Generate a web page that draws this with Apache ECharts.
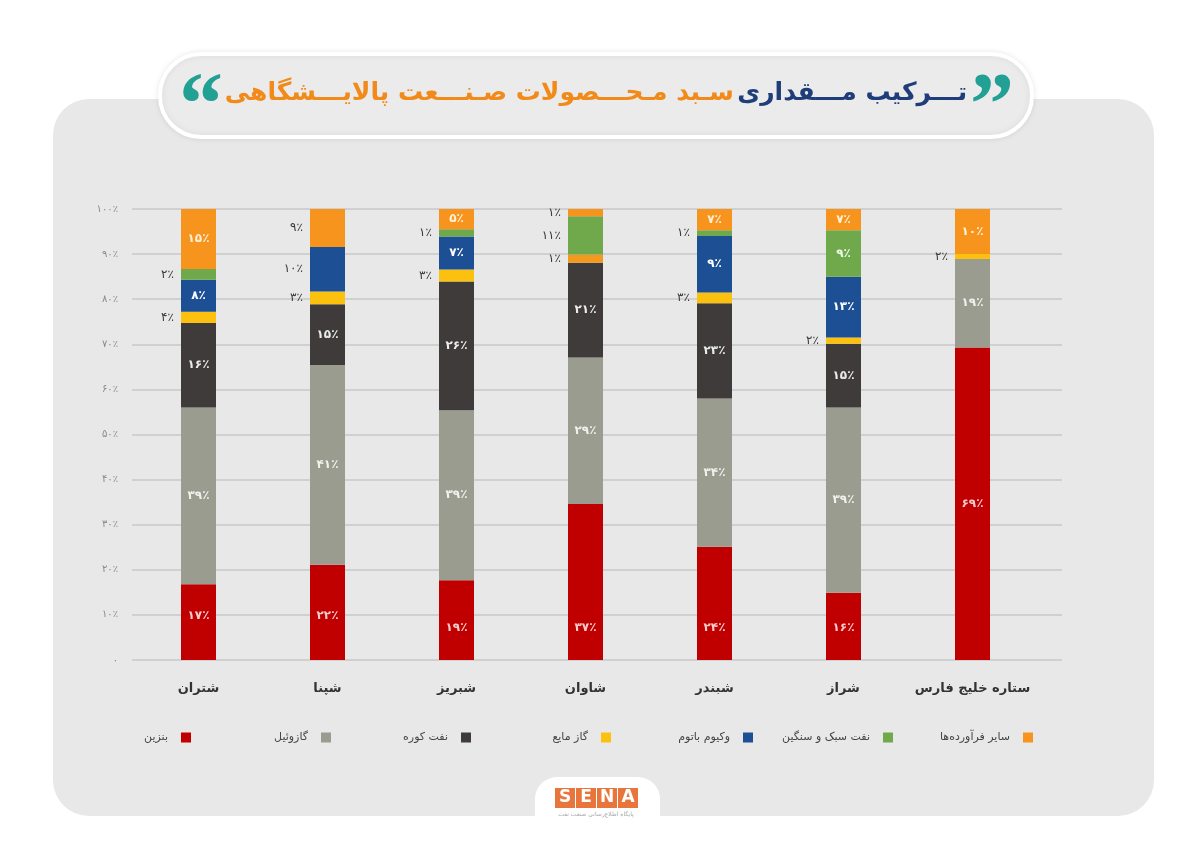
<!DOCTYPE html>
<html>
<head>
<meta charset="utf-8">
<script src="https://cdn.jsdelivr.net/npm/echarts@6/dist/echarts.min.js"></script>
<style>
html,body{margin:0;padding:0;background:#ffffff;}
#chart{width:1200px;height:849px;}
</style>
</head>
<body>
<div id="chart"></div>
<script>
// ---- data ----
const categories = ['شتران', 'شپنا', 'شبریز', 'شاوان', 'شبندر', 'شراز', 'ستاره خلیج فارس'];
const seriesNames = ['بنزین', 'گازوئیل', 'نفت کوره', 'گاز مایع', 'وکیوم باتوم', 'نفت سبک و سنگین', 'سایر فرآورده‌ها'];

// segment heights (%) as drawn
const benzin     = [16.8, 21.1, 17.7, 34.6, 25.1, 14.9, 69.3];
const gasoil     = [39.2, 44.3, 37.7, 32.5, 32.9, 41.1, 19.6];
const fuelOil    = [18.7, 13.5, 28.5, 21.0, 21.1, 14.1, 0];
const lpg        = [2.5, 2.8, 2.7, 1.8, 2.4, 1.4, 1.1];
const vacuum     = [7.1, 9.9, 7.3, 0, 12.5, 13.5, 0];
const lightHeavy = [2.4, 0, 1.6, 8.5, 1.3, 10.3, 0];
const others     = [13.3, 8.4, 4.5, 1.6, 4.7, 4.7, 10.0];

// printed percentage labels
const benzinTxt     = [17, 22, 19, 37, 24, 16, 69];
const gasoilTxt     = [39, 41, 39, 29, 34, 39, 19];
const fuelOilTxt    = [16, 15, 26, 21, 23, 15, null];
const lpgTxt        = [4, 3, 3, 1, 3, 2, 2];
const vacuumTxt     = [8, 10, 7, null, 9, 13, null];
const lightHeavyTxt = [2, null, 1, 11, 1, 9, null];
const othersTxt     = [15, 9, 5, 1, 7, 7, 10];

const yTickLabels = ['۰', '۱۰٪', '۲۰٪', '۳۰٪', '۴۰٪', '۵۰٪', '۶۰٪', '۷۰٪', '۸۰٪', '۹۰٪', '۱۰۰٪'];

// ---- styling ----
const FONT = 'DejaVu Sans';
const colors = ['#c00000', '#9b9c90', '#3f3b3b', '#fcc10f', '#1c4f94', '#70a94c', '#f7941d'];
const insideLabelColors = ['#f6cccc', '#f0f0ec', '#ececec', '#333', '#ffffff', '#f0f6ea', '#fff0d6'];
// [category, series] pairs whose label sits left of the bar
const outsideSet = new Set(['0-3','0-5','1-3','1-4','1-6','2-3','2-5','3-3','3-5','3-6','4-3','4-5','5-3','6-3']);
// item-level colour override (strip drawn in orange in the source)
const colorOverride = {'3-3': '#f39a1e'};

const values = [benzin, gasoil, fuelOil, lpg, vacuum, lightHeavy, others];
const texts = [benzinTxt, gasoilTxt, fuelOilTxt, lpgTxt, vacuumTxt, lightHeavyTxt, othersTxt];

const fa = n => String(n).replace(/\d/g, d => '۰۱۲۳۴۵۶۷۸۹'[d]);

const series = seriesNames.map((name, s) => ({
  name: name,
  type: 'bar',
  stack: 'total',
  xAxisIndex: 1,
  yAxisIndex: 1,
  barWidth: 35,
  itemStyle: { color: colors[s] },
  emphasis: { disabled: true },
  data: values[s].map((v, c) => {
    const key = c + '-' + s;
    const t = texts[s][c];
    const item = { value: v === 0 ? null : v };
    if (t == null) {
      item.label = { show: false };
    } else if (outsideSet.has(key)) {
      item.label = { show: true, position: 'left', distance: 7, color: '#3a3a3a', fontSize: 12, fontFamily: FONT, formatter: fa(t) + '٪' };
    } else {
      const lbl = { show: true, position: 'inside', color: insideLabelColors[s], fontSize: 12, fontFamily: FONT, fontWeight: 'bold', formatter: fa(t) + '٪' };
      if (s === 0 && c < 6) { lbl.position = 'insideBottom'; lbl.distance = c < 2 ? 38 : 26; }
      item.label = lbl;
    }
    if (colorOverride[key]) item.itemStyle = { color: colorOverride[key] };
    return item;
  })
}));

const legends = seriesNames.map((name, i) => ({
  data: [name],
  right: 1200 - (191 + 140 * i + (i >= 4 ? 2 : 0)),
  top: 732,
  align: 'right',
  orient: 'horizontal',
  padding: 0,
  icon: 'rect',
  itemWidth: 10,
  itemHeight: 10,
  selectedMode: false,
  textStyle: { fontSize: 11, color: '#444', fontFamily: FONT, padding: [0, 8, 0, 0] }
}));

const chart = echarts.init(document.getElementById('chart'), null, { renderer: 'canvas' });
chart.setOption({
  backgroundColor: '#ffffff',
  animation: false,
  textStyle: { fontFamily: FONT },
  graphic: [
    { type: 'rect', z: -10, shape: { x: 53, y: 99, width: 1101, height: 717, r: 36 }, style: { fill: '#e9e8e9' } },
    { type: 'rect', z: -9, shape: { x: 160, y: 54, width: 872, height: 83, r: 41 },
      style: { fill: '#ecebec', stroke: '#ffffff', lineWidth: 4, shadowBlur: 6, shadowColor: 'rgba(0,0,0,0.08)' } },
    { type: 'text', z: 5, x: 596, y: 93,
      style: {
        text: '{o|سـبد مـحـــصولات صـنـــعت پالایـــشگاهی} {b|تـــرکیب مـــقداری}',
        align: 'center', verticalAlign: 'middle',
        rich: {
          o: { fill: '#f28a1a', fontSize: 25, fontWeight: 'bold', fontFamily: FONT },
          b: { fill: '#1f3d78', fontSize: 25, fontWeight: 'bold', fontFamily: FONT }
        }
      } },
    { type: 'text', z: 5, x: 201, y: 110, style: { text: '“', fill: '#22a093', fontSize: 88, fontWeight: 'bold', fontFamily: 'Liberation Serif', align: 'center', verticalAlign: 'middle' } },
    { type: 'text', z: 5, x: 992, y: 110, style: { text: '”', fill: '#22a093', fontSize: 88, fontWeight: 'bold', fontFamily: 'Liberation Serif', align: 'center', verticalAlign: 'middle' } },
    { type: 'rect', z: -8, shape: { x: 535, y: 777, width: 125, height: 80, r: [22, 22, 0, 0] }, style: { fill: '#ffffff' } },
    { type: 'rect', z: 5, shape: { x: 555, y: 788, width: 20, height: 20 }, style: { fill: '#e8763c' } },
    { type: 'rect', z: 5, shape: { x: 576, y: 788, width: 20, height: 20 }, style: { fill: '#e8763c' } },
    { type: 'rect', z: 5, shape: { x: 597, y: 788, width: 20, height: 20 }, style: { fill: '#e8763c' } },
    { type: 'rect', z: 5, shape: { x: 618, y: 788, width: 20, height: 20 }, style: { fill: '#e8763c' } },
    { type: 'text', z: 6, x: 565, y: 798, style: { text: 'S', fill: '#fff', fontSize: 17, fontWeight: 'bold', fontFamily: FONT, align: 'center', verticalAlign: 'middle' } },
    { type: 'text', z: 6, x: 586, y: 798, style: { text: 'E', fill: '#fff', fontSize: 17, fontWeight: 'bold', fontFamily: FONT, align: 'center', verticalAlign: 'middle' } },
    { type: 'text', z: 6, x: 607, y: 798, style: { text: 'N', fill: '#fff', fontSize: 17, fontWeight: 'bold', fontFamily: FONT, align: 'center', verticalAlign: 'middle' } },
    { type: 'text', z: 6, x: 628, y: 798, style: { text: 'A', fill: '#fff', fontSize: 17, fontWeight: 'bold', fontFamily: FONT, align: 'center', verticalAlign: 'middle' } },
    { type: 'text', z: 6, x: 596, y: 814, style: { text: 'پایگاه اطلاع‌رسانی صنعت نفت', fill: '#a9a9a9', fontSize: 6, fontFamily: FONT, align: 'center', verticalAlign: 'middle' } }
  ],
  legend: legends,
  grid: [
    { left: 132, right: 138, top: 209, height: 451 },
    { left: 134, right: 163, top: 209, height: 451 }
  ],
  xAxis: [
    { gridIndex: 0, type: 'value', min: 0, max: 1, show: false },
    { gridIndex: 1, type: 'category', data: categories,
      axisLine: { show: false }, axisTick: { show: false },
      axisLabel: { interval: 0, color: '#333', fontSize: 13, fontWeight: 'bold', fontFamily: FONT, margin: 22 } }
  ],
  yAxis: [
    { gridIndex: 0, type: 'value', min: 0, max: 100, interval: 10,
      axisLine: { show: false }, axisTick: { show: false },
      splitLine: { lineStyle: { color: '#c9c9c9', width: 1.5 } },
      axisLabel: { color: '#8a8a8a', fontSize: 10, fontFamily: FONT, margin: 14,
        formatter: v => yTickLabels[Math.round(v / 10)] } },
    { gridIndex: 1, type: 'value', min: 0, max: 100, interval: 10, show: false, splitLine: { show: false } }
  ],
  series: series
});
</script>
</body>
</html>
